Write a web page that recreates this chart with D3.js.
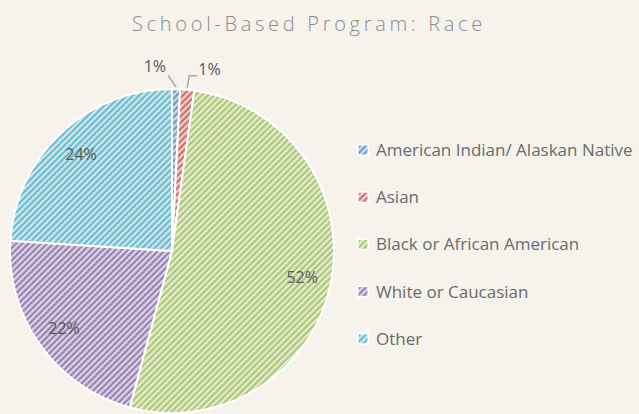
<!DOCTYPE html>
<html>
<head>
<meta charset="utf-8">
<script src="https://cdn.jsdelivr.net/npm/d3@7"></script>
<style>
  html, body { margin: 0; padding: 0; background: #f5f3eb; }
  svg { display: block; font-family: "Open Sans", "DejaVu Sans", sans-serif; }
</style>
</head>
<body>
<svg id="chart"></svg>
<script>
// chart data
const categories = ['American Indian/ Alaskan Native', 'Asian', 'Black or African American', 'White or Caucasian', 'Other'];
const values = [0.8, 1.4, 52.0, 21.8, 24.0];
const labels = ['1%', '1%', '52%', '22%', '24%'];
const colors = ['#4f81bd', '#c0504d', '#9bbb59', '#8064a2', '#4bacc6'];

const width = 639, height = 414;
const cx = 172, cy = 251, radius = 162;

const svg = d3.select('#chart')
  .attr('width', width)
  .attr('height', height);

svg.append('rect')
  .attr('width', width)
  .attr('height', height)
  .attr('fill', '#f5f3eb');

// hatch patterns, light stripes going up to the right
const defs = svg.append('defs');
colors.forEach((c, i) => {
  const p = defs.append('pattern')
    .attr('id', 'hatch' + i)
    .attr('patternUnits', 'userSpaceOnUse')
    .attr('width', 4.4)
    .attr('height', 4.4)
    .attr('patternTransform', 'rotate(45)');
  p.append('rect').attr('width', 4.4).attr('height', 4.4).attr('fill', c).attr('opacity', 0.8);
  p.append('rect').attr('x', 0).attr('width', 2.2).attr('height', 4.4).attr('fill', '#ffffff').attr('opacity', 0.68);
});

svg.append('text')
  .attr('x', 309)
  .attr('y', 31)
  .attr('text-anchor', 'middle')
  .attr('fill', '#8c8c8c')
  .attr('font-size', 20)
  .attr('font-weight', 300)
  .attr('letter-spacing', 3.7)
  .text('School-Based Program: Race');

const pie = d3.pie().sort(null).value(d => d)(values);
const arc = d3.arc().innerRadius(0).outerRadius(radius);
const labelArc = d3.arc().innerRadius(radius * 0.82).outerRadius(radius * 0.82);

const g = svg.append('g').attr('transform', `translate(${cx},${cy})`);

g.selectAll('path.slice')
  .data(pie)
  .join('path')
  .attr('class', 'slice')
  .attr('d', arc)
  .attr('fill', (d, i) => `url(#hatch${i})`)
  .attr('stroke', '#ffffff')
  .attr('stroke-width', 2)
  .attr('stroke-linejoin', 'round');

// inside labels for big slices
g.selectAll('text.inlabel')
  .data(pie.filter(d => d.value > 5))
  .join('text')
  .attr('class', 'inlabel')
  .attr('transform', d => `translate(${labelArc.centroid(d)})`)
  .attr('text-anchor', 'middle')
  .attr('dy', '0.35em')
  .attr('fill', '#595959')
  .attr('font-size', 16)
  .text(d => labels[d.index]);

// outside labels with leader lines for the two small slices
const outer = [
  { idx: 0, dx: -8, len: 14, side: -1 },
  { idx: 1, dx: 2, len: 14, side: 1 }
];
outer.forEach(o => {
  const d = pie[o.idx];
  const a = (d.startAngle + d.endAngle) / 2;
  const x0 = Math.sin(a) * radius, y0 = -Math.cos(a) * radius;
  let pts, tx, ty, anchor;
  if (o.side < 0) {
    const x1 = x0 + o.dx, y1 = y0 - o.len;
    pts = [[x0, y0 - 2], [x1, y1]];
    tx = x1 - 2; ty = y1 - 3; anchor = 'end';
  } else {
    const x1 = x0 + o.dx, y1 = y0 - o.len;
    pts = [[x0, y0 - 2], [x1, y1], [x1 + 8, y1]];
    tx = x1 + 9; ty = y1 - 1; anchor = 'start';
  }
  g.append('path')
    .attr('d', d3.line()(pts))
    .attr('fill', 'none')
    .attr('stroke', '#a6a6a6')
    .attr('stroke-width', 1.5);
  g.append('text')
    .attr('x', tx)
    .attr('y', ty)
    .attr('text-anchor', anchor)
    .attr('fill', '#595959')
    .attr('font-size', 16)
    .text(labels[o.idx]);
});

// legend
const legend = svg.append('g').attr('transform', 'translate(357,150)');
const row = legend.selectAll('g')
  .data(categories)
  .join('g')
  .attr('transform', (d, i) => `translate(0,${i * 47.2})`);
row.append('rect')
  .attr('x', 0)
  .attr('y', -6)
  .attr('width', 12)
  .attr('height', 12)
  .attr('fill', '#ffffff');
row.append('rect')
  .attr('x', 1.5)
  .attr('y', -4.5)
  .attr('width', 9)
  .attr('height', 9)
  .attr('fill', (d, i) => `url(#hatch${i})`);
row.append('text')
  .attr('x', 19)
  .attr('y', 0)
  .attr('dy', '0.35em')
  .attr('fill', '#6b6b6b')
  .attr('font-size', 17)
  .text(d => d);
</script>
</body>
</html>
